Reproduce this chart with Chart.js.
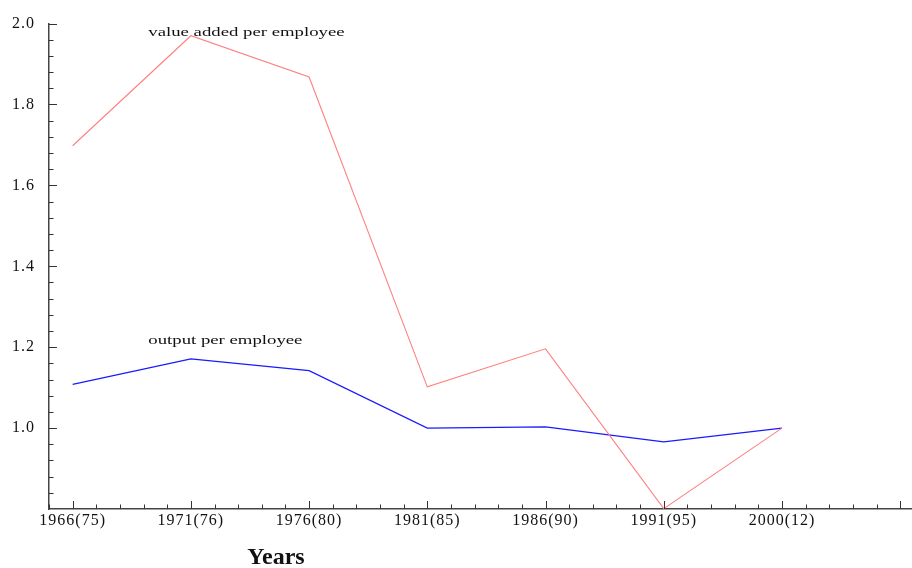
<!DOCTYPE html>
<html>
<head>
<meta charset="utf-8">
<script src="https://cdn.jsdelivr.net/npm/chart.js@4"></script>
<style>
  html, body { margin: 0; padding: 0; background: #fff; }
  #wrap { width: 912px; height: 568px; }
</style>
</head>
<body>
<div id="wrap"><canvas id="chart" width="912" height="568"></canvas></div>
<script>
// categories along the x axis (index 0..6)
const years = ['1966(75)', '1971(76)', '1976(80)', '1981(85)', '1986(90)', '1991(95)', '2000(12)'];

// series values
const valueAdded = [1.698, 1.970, 1.868, 1.102, 1.196, 0.801, 1.000];
const outputPerEmp = [1.108, 1.171, 1.142, 1.000, 1.003, 0.966, 1.000];

// y tick labels
const yTicks = [1.0, 1.2, 1.4, 1.6, 1.8, 2.0];

// inline labels: text, anchor in data coords
const notes = [
  { text: 'value added per employee', x: 0.64, y: 1.970 },
  { text: 'output per employee', x: 0.64, y: 1.209 },
];

const axisTitle = { text: 'Years', x: 1.72 };

const serif = "'Liberation Serif', 'DejaVu Serif', serif";

// wide tick lettering like the original
const tickSpacing = {
  id: 'tickSpacing',
  beforeDraw(chart) { chart.ctx.letterSpacing = '1px'; },
  beforeDatasetsDraw(chart) { chart.ctx.letterSpacing = '0px'; },
};

// ticks point inward, with four minor ticks between majors
const inwardTicks = {
  id: 'inwardTicks',
  afterDraw(chart) {
    const { ctx, chartArea, scales } = chart;
    const xs = scales.x, ys = scales.y;
    ctx.save();
    ctx.strokeStyle = '#333';
    ctx.lineWidth = 1;
    ctx.beginPath();
    for (let i = -1; i <= 35; i++) {
      const v = i * 0.2;
      if (v < xs.min - 1e-9 || v > xs.max + 1e-9) continue;
      const px = Math.round(xs.getPixelForValue(v)) + 0.5;
      const len = i % 5 === 0 ? 8 : 4.5;
      ctx.moveTo(px, chartArea.bottom);
      ctx.lineTo(px, chartArea.bottom - len);
    }
    for (let i = 1; i <= 30; i++) {
      const v = 0.8 + i * 0.04;
      const py = Math.round(ys.getPixelForValue(v)) + 0.5;
      const len = i % 5 === 0 ? 8 : 4.5;
      ctx.moveTo(chartArea.left, py);
      ctx.lineTo(chartArea.left + len, py);
    }
    ctx.stroke();

    // small labels are stretched sideways in the original
    ctx.fillStyle = '#111';
    ctx.font = '12.5px ' + serif;
    ctx.textAlign = 'left';
    ctx.textBaseline = 'alphabetic';
    notes.forEach(n => {
      ctx.save();
      ctx.translate(xs.getPixelForValue(n.x), ys.getPixelForValue(n.y));
      ctx.scale(1.5, 1);
      ctx.fillText(n.text, 0, 0);
      ctx.restore();
    });

    ctx.font = 'bold 24px ' + serif;
    ctx.textAlign = 'center';
    ctx.fillText(axisTitle.text, xs.getPixelForValue(axisTitle.x), 564);
    ctx.restore();
  }
};

new Chart(document.getElementById('chart'), {
  type: 'line',
  data: {
    datasets: [
      {
        label: 'value added per employee',
        data: valueAdded.map((v, i) => ({ x: i, y: v })),
        borderColor: '#ff8080',
        borderWidth: 1.1,
        pointRadius: 0,
        tension: 0,
        fill: false,
      },
      {
        label: 'output per employee',
        data: outputPerEmp.map((v, i) => ({ x: i, y: v })),
        borderColor: '#1a1aff',
        borderWidth: 1.2,
        pointRadius: 0,
        tension: 0,
        fill: false,
      },
    ],
  },
  options: {
    responsive: false,
    animation: false,
    layout: { padding: { top: 20, right: 0, left: 0, bottom: 0 } },
    plugins: {
      legend: { display: false },
      tooltip: { enabled: false },
    },
    scales: {
      x: {
        type: 'linear',
        min: -0.2,
        max: 7.1,
        afterBuildTicks: (scale) => { scale.ticks = years.map((c, i) => ({ value: i })); },
        afterFit: (scale) => { scale.height = 59; },
        grid: { display: false, drawTicks: false },
        border: { display: true, color: '#444', width: 1.5 },
        ticks: {
          padding: 2,
          maxRotation: 0,
          autoSkip: false,
          color: '#111',
          font: { family: serif, size: 16 },
          callback: (v) => years[v] ?? '',
        },
      },
      y: {
        type: 'linear',
        min: 0.8,
        max: 2.0,
        afterBuildTicks: (scale) => { scale.ticks = yTicks.map(v => ({ value: v })); },
        afterFit: (scale) => { scale.width = 49; },
        grid: { display: false, drawTicks: false },
        border: { display: true, color: '#444', width: 1.5 },
        ticks: {
          padding: 14,
          color: '#111',
          font: { family: serif, size: 16 },
          callback: (v) => v.toFixed(1),
        },
      },
    },
  },
  plugins: [tickSpacing, inwardTicks],
});
</script>
</body>
</html>
